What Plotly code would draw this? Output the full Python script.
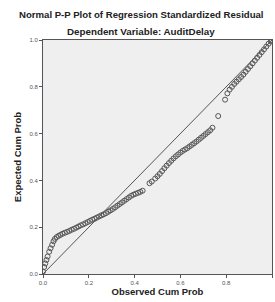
import plotly.graph_objects as go

observed_cum_prob = [
    0.000, 0.005, 0.010, 0.015, 0.020, 0.027, 0.033, 0.040, 0.046, 0.052,
    0.060, 0.068, 0.076, 0.085, 0.095, 0.105, 0.115, 0.125, 0.135, 0.145,
    0.155, 0.165, 0.175, 0.185, 0.195, 0.205, 0.215, 0.225, 0.235, 0.245,
    0.255, 0.265, 0.275, 0.285, 0.295, 0.305, 0.315, 0.325, 0.335, 0.345,
    0.355, 0.365, 0.375, 0.385, 0.395, 0.405, 0.415, 0.425, 0.435, 0.465,
    0.475, 0.490, 0.500, 0.510, 0.520, 0.530, 0.540, 0.550, 0.560, 0.570,
    0.580, 0.590, 0.600, 0.610, 0.620, 0.630, 0.640, 0.650, 0.660, 0.670,
    0.680, 0.690, 0.700, 0.710, 0.720, 0.730, 0.740, 0.765, 0.795, 0.805,
    0.815, 0.825, 0.835, 0.845, 0.855, 0.865, 0.875, 0.885, 0.895, 0.905,
    0.915, 0.925, 0.935, 0.945, 0.955, 0.965, 0.975, 0.985, 0.995, 1.000,
]
expected_cum_prob = [
    0.010, 0.030, 0.045, 0.060, 0.075, 0.095, 0.110, 0.125, 0.140, 0.150,
    0.158, 0.163, 0.167, 0.172, 0.176, 0.180, 0.184, 0.189, 0.193, 0.198,
    0.203, 0.208, 0.212, 0.217, 0.222, 0.227, 0.232, 0.236, 0.241, 0.246,
    0.251, 0.255, 0.260, 0.266, 0.272, 0.278, 0.285, 0.292, 0.299, 0.306,
    0.313, 0.320, 0.327, 0.334, 0.339, 0.343, 0.347, 0.351, 0.356, 0.388,
    0.395, 0.408, 0.418, 0.428, 0.440, 0.452, 0.463, 0.474, 0.484, 0.494,
    0.503, 0.511, 0.519, 0.526, 0.532, 0.538, 0.545, 0.552, 0.559, 0.566,
    0.574, 0.582, 0.590, 0.598, 0.606, 0.614, 0.625, 0.675, 0.745, 0.772,
    0.788, 0.800, 0.812, 0.822, 0.832, 0.842, 0.852, 0.864, 0.876, 0.888,
    0.900, 0.912, 0.924, 0.936, 0.948, 0.960, 0.972, 0.984, 0.994, 1.000,
]
ref_line = [0.0, 1.0]
tick_vals = [0.0, 0.2, 0.4, 0.6, 0.8, 1.0]
tick_text = ["0.0", "0.2", "0.4", "0.6", "0.8", "1.0"]

fig = go.Figure()
fig.add_trace(go.Scatter(
    x=ref_line, y=ref_line, mode="lines",
    line=dict(color="#555555", width=1), hoverinfo="skip", showlegend=False))
fig.add_trace(go.Scatter(
    x=observed_cum_prob, y=expected_cum_prob, mode="markers",
    marker=dict(symbol="circle-open", size=5, color="#555555",
                line=dict(width=1, color="#555555")),
    showlegend=False))

font_family = "Liberation Sans, Arial, sans-serif"
fig.update_layout(
    width=275, height=302,
    margin=dict(l=43, r=3, t=40, b=28),
    paper_bgcolor="white", plot_bgcolor="#efefef",
    font=dict(family=font_family, size=6, color="#444444"),
)
fig.add_annotation(text="<b>Normal P-P Plot of Regression Standardized Residual</b>",
                   x=0.43, y=1.0, xref="paper", yref="paper", yanchor="middle",
                   xanchor="center", yshift=26, showarrow=False,
                   font=dict(size=9.6, color="#222222"))
fig.add_annotation(text="<b>Dependent Variable: AuditDelay</b>",
                   x=0.43, y=1.0, xref="paper", yref="paper", yanchor="middle",
                   xanchor="center", yshift=9, showarrow=False,
                   font=dict(size=9.8, color="#222222"))
fig.update_xaxes(
    range=[0, 1], tickvals=tick_vals, ticktext=tick_text,
    showgrid=False, zeroline=False, showline=True, linecolor="#555555",
    linewidth=1, mirror=True, ticks="outside", ticklen=3, tickcolor="#555555",
    title=dict(text="<b>Observed Cum Prob</b>", standoff=3,
               font=dict(size=9.5, color="#222222")),
    tickfont=dict(size=6, color="#555555"))
fig.update_yaxes(
    range=[0, 1], tickvals=tick_vals, ticktext=tick_text,
    showgrid=False, zeroline=False, showline=True, linecolor="#555555",
    linewidth=1, mirror=True, ticks="outside", ticklen=3, tickcolor="#555555",
    title=dict(text="<b>Expected Cum Prob</b>", standoff=6,
               font=dict(size=9.5, color="#222222")),
    tickfont=dict(size=6, color="#555555"))

fig.write_html("out.html", config={"displayModeBar": False},
               post_script="document.body.style.margin='0';")
